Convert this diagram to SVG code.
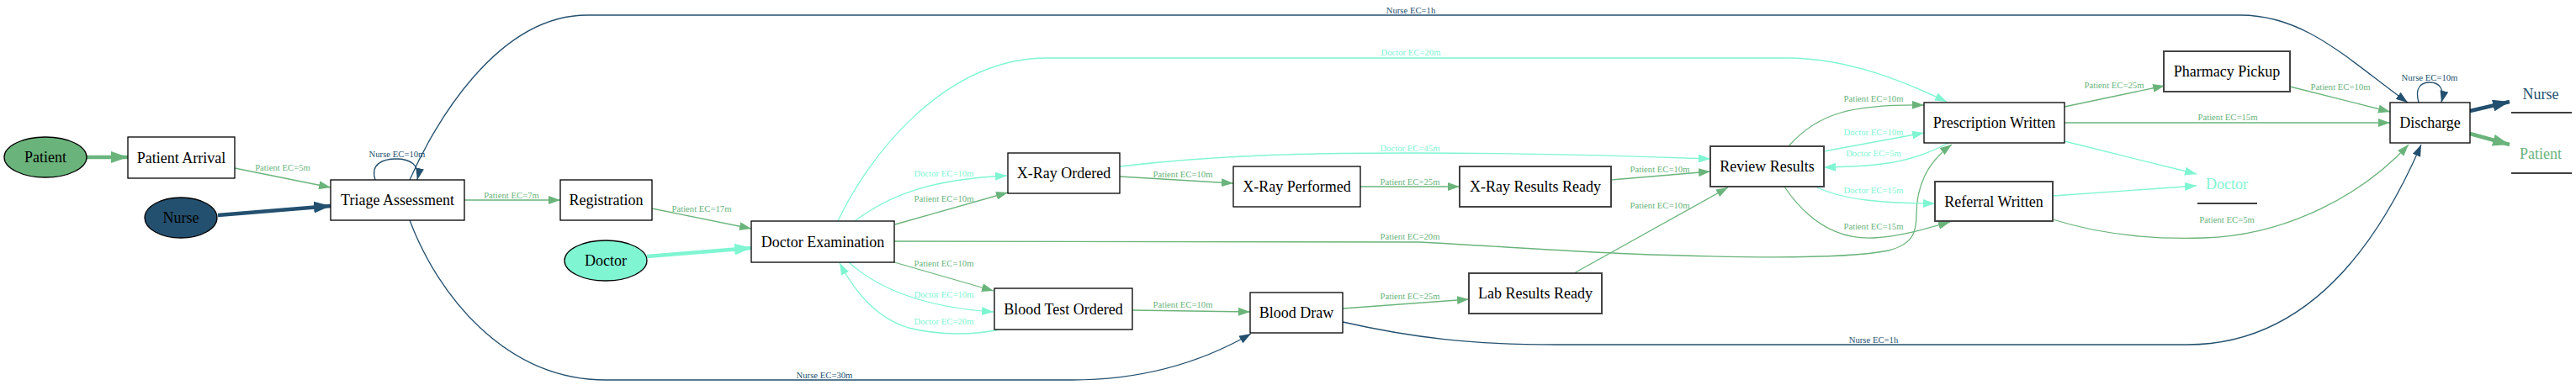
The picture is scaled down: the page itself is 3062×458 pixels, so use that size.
<svg xmlns="http://www.w3.org/2000/svg" width="3062" height="458" viewBox="0 0 3062 458">
<style>
text{font-family:"Liberation Serif","Times New Roman",serif;text-anchor:middle;dominant-baseline:central}
.nl{font-size:18px;fill:#000}
.el{font-size:10.7px}
.n{fill:#fff;stroke:#000;stroke-width:1.3}
.n2{fill:#fff;stroke:#444;stroke-width:2}
.e{fill:none;stroke-width:1.3}
.t{fill:none;stroke-width:4.5}
.g{stroke:#6ab47b}.b{stroke:#24506f}.a{stroke:#7ff5d2}
.tg{fill:#6ab47b}.tb{fill:#24506f}.ta{fill:#7ff5d2}
.lg{stroke:#000;stroke-width:1.3}
</style>
<defs>
<marker id="mg" viewBox="0 0 14 10" refX="14" refY="5" markerWidth="14" markerHeight="10" orient="auto" markerUnits="userSpaceOnUse"><path d="M0,0L14,5L0,10z" fill="#6ab47b"/></marker>
<marker id="mb" viewBox="0 0 14 10" refX="14" refY="5" markerWidth="14" markerHeight="10" orient="auto" markerUnits="userSpaceOnUse"><path d="M0,0L14,5L0,10z" fill="#24506f"/></marker>
<marker id="ma" viewBox="0 0 14 10" refX="14" refY="5" markerWidth="14" markerHeight="10" orient="auto" markerUnits="userSpaceOnUse"><path d="M0,0L14,5L0,10z" fill="#7ff5d2"/></marker>
<marker id="Tg" viewBox="0 0 20 14" refX="20" refY="7" markerWidth="20" markerHeight="14" orient="auto" markerUnits="userSpaceOnUse"><path d="M0,0L20,7L0,14z" fill="#6ab47b"/></marker>
<marker id="Tb" viewBox="0 0 20 14" refX="20" refY="7" markerWidth="20" markerHeight="14" orient="auto" markerUnits="userSpaceOnUse"><path d="M0,0L20,7L0,14z" fill="#24506f"/></marker>
<marker id="Ta" viewBox="0 0 20 14" refX="20" refY="7" markerWidth="20" markerHeight="14" orient="auto" markerUnits="userSpaceOnUse"><path d="M0,0L20,7L0,14z" fill="#7ff5d2"/></marker>
</defs>
<rect width="3062" height="458" fill="#fff"/>

<g id="connectors">
<path class="t g" marker-end="url(#Tg)" d="M103,187L152,187"/>
<path class="t b" marker-end="url(#Tb)" d="M259,256L393,245"/>
<path class="t a" marker-end="url(#Ta)" d="M769,305L893,295"/>
<path class="e g" marker-end="url(#mg)" d="M279,200L393,223"/>
<text class="el tg" x="336" y="199">Patient EC=5m</text>
<path class="e b" marker-end="url(#mb)" d="M446,214C440,195 455,189 471,189C487,189 500,196 496,214"/>
<text class="el tb" x="472" y="183">Nurse EC=10m</text>
<path class="e g" marker-end="url(#mg)" d="M552,238L666,238"/>
<text class="el tg" x="608" y="232">Patient EC=7m</text>
<path class="e g" marker-end="url(#mg)" d="M775,248L893,272"/>
<text class="el tg" x="834" y="248">Patient EC=17m</text>
<path class="e b" marker-end="url(#mb)" d="M487,214C515,150 590,18 698,18L2663,18C2740,18 2790,70 2862,122"/>
<text class="el tb" x="1677" y="12">Nurse EC=1h</text>
<path class="e a" marker-end="url(#ma)" d="M996,263C1030,190 1120,69 1245,69L2124,69C2200,69 2270,100 2314,121"/>
<text class="el ta" x="1677" y="62">Doctor EC=20m</text>
<path class="e a" marker-end="url(#ma)" d="M1016,263C1060,230 1110,213 1197,209"/>
<text class="el ta" x="1122" y="206">Doctor EC=10m</text>
<path class="e g" marker-end="url(#mg)" d="M1064,267L1198,229"/>
<text class="el tg" x="1122" y="236">Patient EC=10m</text>
<path class="e g" marker-end="url(#mg)" d="M1063,287L1688,288C1800,294 1900,302 2000,304C2100,307 2200,307 2245,298C2275,290 2278,275 2278,255C2278,215 2295,190 2320,172"/>
<text class="el tg" x="1676" y="281">Patient EC=20m</text>
<path class="e g" marker-end="url(#mg)" d="M1063,312L1181,346"/>
<text class="el tg" x="1122" y="313">Patient EC=10m</text>
<path class="e a" marker-end="url(#ma)" d="M1009,312C1040,340 1090,365 1181,371"/>
<text class="el ta" x="1122" y="350">Doctor EC=10m</text>
<path class="e a" marker-end="url(#ma)" d="M1188,392C1160,398 1120,400 1080,390C1040,378 1015,345 998,313"/>
<text class="el ta" x="1122" y="382">Doctor EC=20m</text>
<path class="e b" marker-end="url(#mb)" d="M487,262C520,350 600,452 720,452L1274,452C1360,452 1430,430 1487,397"/>
<text class="el tb" x="980" y="446">Nurse EC=30m</text>
<path class="e g" marker-end="url(#mg)" d="M1331,210L1466,218"/>
<text class="el tg" x="1406" y="207">Patient EC=10m</text>
<path class="e a" marker-end="url(#ma)" d="M1331,198C1450,184 1560,182 1676,182C1800,182 1900,184 2033,189"/>
<text class="el ta" x="1676" y="176">Doctor EC=45m</text>
<path class="e g" marker-end="url(#mg)" d="M1617,222L1735,222"/>
<text class="el tg" x="1676" y="216">Patient EC=25m</text>
<path class="e g" marker-end="url(#mg)" d="M1915,214L2033,204"/>
<text class="el tg" x="1973" y="201">Patient EC=10m</text>
<path class="e g" marker-end="url(#mg)" d="M1346,369L1486,371"/>
<text class="el tg" x="1406" y="362">Patient EC=10m</text>
<path class="e g" marker-end="url(#mg)" d="M1596,367L1746,356"/>
<text class="el tg" x="1676" y="352">Patient EC=25m</text>
<path class="e g" marker-end="url(#mg)" d="M1871,325L2054,223"/>
<text class="el tg" x="1973" y="244">Patient EC=10m</text>
<path class="e b" marker-end="url(#mb)" d="M1596,383C1680,402 1750,410 1850,410L2600,410C2760,410 2840,260 2878,172"/>
<text class="el tb" x="2227" y="404">Nurse EC=1h</text>
<path class="e g" marker-end="url(#mg)" d="M2126,174C2160,135 2200,124 2287,125"/>
<text class="el tg" x="2227" y="117">Patient EC=10m</text>
<path class="e a" marker-end="url(#ma)" d="M2168,180L2287,158"/>
<text class="el ta" x="2227" y="157">Doctor EC=10m</text>
<path class="e a" marker-end="url(#ma)" d="M2316,170C2270,195 2230,198 2168,199"/>
<text class="el ta" x="2227" y="182">Doctor EC=5m</text>
<path class="e a" marker-end="url(#ma)" d="M2158,222C2190,238 2240,242 2300,242"/>
<text class="el ta" x="2227" y="226">Doctor EC=15m</text>
<path class="e g" marker-end="url(#mg)" d="M2121,222C2150,265 2185,285 2227,283C2260,281 2290,272 2318,264"/>
<text class="el tg" x="2227" y="269">Patient EC=15m</text>
<path class="e g" marker-end="url(#mg)" d="M2454,127L2573,102"/>
<text class="el tg" x="2513" y="101">Patient EC=25m</text>
<path class="e g" marker-end="url(#mg)" d="M2454,146L2841,146"/>
<text class="el tg" x="2648" y="139">Patient EC=15m</text>
<path class="e a" marker-end="url(#ma)" d="M2454,168L2611,207"/>
<path class="e a" marker-end="url(#ma)" d="M2440,233L2611,221"/>
<path class="e g" marker-end="url(#mg)" d="M2440,261C2500,280 2560,285 2620,283C2720,280 2810,230 2863,172"/>
<text class="el tg" x="2647" y="261">Patient EC=5m</text>
<path class="e g" marker-end="url(#mg)" d="M2722,103L2841,133"/>
<text class="el tg" x="2782" y="103">Patient EC=10m</text>
<path class="e b" marker-end="url(#mb)" d="M2875,122C2870,104 2878,98 2888,98C2900,98 2906,106 2902,122"/>
<text class="el tb" x="2888" y="92">Nurse EC=10m</text>
<path class="t b" marker-end="url(#Tb)" d="M2936,132L2983,121"/>
<path class="t g" marker-end="url(#Tg)" d="M2936,159L2983,172"/>
</g>

<g id="patient"><ellipse cx="54" cy="187" rx="49" ry="24" fill="#6ab47b" stroke="#000" stroke-width="1.3"/><text class="nl" x="54" y="187">Patient</text></g>
<g id="nurse"><ellipse cx="215" cy="259" rx="43" ry="24" fill="#24506f" stroke="#000" stroke-width="1.3"/><text class="nl" x="215" y="259">Nurse</text></g>
<g id="doctor"><ellipse cx="720" cy="310" rx="49" ry="24" fill="#7ff5d2" stroke="#000" stroke-width="1.3"/><text class="nl" x="720" y="310">Doctor</text></g>

<g id="patient-arrival"><rect class="n" x="152" y="163" width="127" height="49"/><text class="nl" x="215.5" y="187.5">Patient Arrival</text></g>
<g id="triage-assessment"><rect class="n" x="393" y="214" width="159" height="48"/><text class="nl" x="472.5" y="238">Triage Assessment</text></g>
<g id="registration"><rect class="n" x="666" y="214" width="109" height="48"/><text class="nl" x="720.5" y="238">Registration</text></g>
<g id="doctor-examination"><rect class="n" x="893" y="263" width="170" height="49"/><text class="nl" x="978" y="287.5">Doctor Examination</text></g>
<g id="xray-ordered"><rect class="n" x="1198" y="182" width="133" height="48"/><text class="nl" x="1264.5" y="206">X-Ray Ordered</text></g>
<g id="blood-test-ordered"><rect class="n" x="1182" y="343" width="164" height="49"/><text class="nl" x="1264" y="367.5">Blood Test Ordered</text></g>
<g id="xray-performed"><rect class="n" x="1466" y="198" width="151" height="48"/><text class="nl" x="1541.5" y="222">X-Ray Performed</text></g>
<g id="xray-results-ready"><rect class="n2" x="1735" y="198" width="180" height="48"/><text class="nl" x="1825" y="222">X-Ray Results Ready</text></g>
<g id="blood-draw"><rect class="n" x="1486" y="348" width="110" height="48"/><text class="nl" x="1541" y="372">Blood Draw</text></g>
<g id="lab-results-ready"><rect class="n2" x="1746" y="325" width="158" height="48"/><text class="nl" x="1825" y="349">Lab Results Ready</text></g>
<g id="review-results"><rect class="n2" x="2033" y="174" width="135" height="48"/><text class="nl" x="2100.5" y="198">Review Results</text></g>
<g id="prescription-written"><rect class="n" x="2287" y="122" width="167" height="48"/><text class="nl" x="2370.5" y="146">Prescription Written</text></g>
<g id="referral-written"><rect class="n2" x="2300" y="216" width="140" height="47"/><text class="nl" x="2370" y="239.5">Referral Written</text></g>
<g id="pharmacy-pickup"><rect class="n2" x="2572" y="61" width="150" height="48"/><text class="nl" x="2647" y="85">Pharmacy Pickup</text></g>
<g id="discharge"><rect class="n" x="2841" y="122" width="95" height="48"/><text class="nl" x="2888.5" y="146">Discharge</text></g>

<g id="end-doctor"><text class="nl ta" x="2647" y="219">Doctor</text><line class="lg" x1="2612" y1="242" x2="2683" y2="242"/></g>
<g id="end-nurse"><text class="nl tb" x="3020" y="112">Nurse</text><line class="lg" x1="2985" y1="134" x2="3057" y2="134"/></g>
<g id="end-patient"><text class="nl tg" x="3020" y="183">Patient</text><line class="lg" x1="2985" y1="206" x2="3057" y2="206"/></g>
</svg>
